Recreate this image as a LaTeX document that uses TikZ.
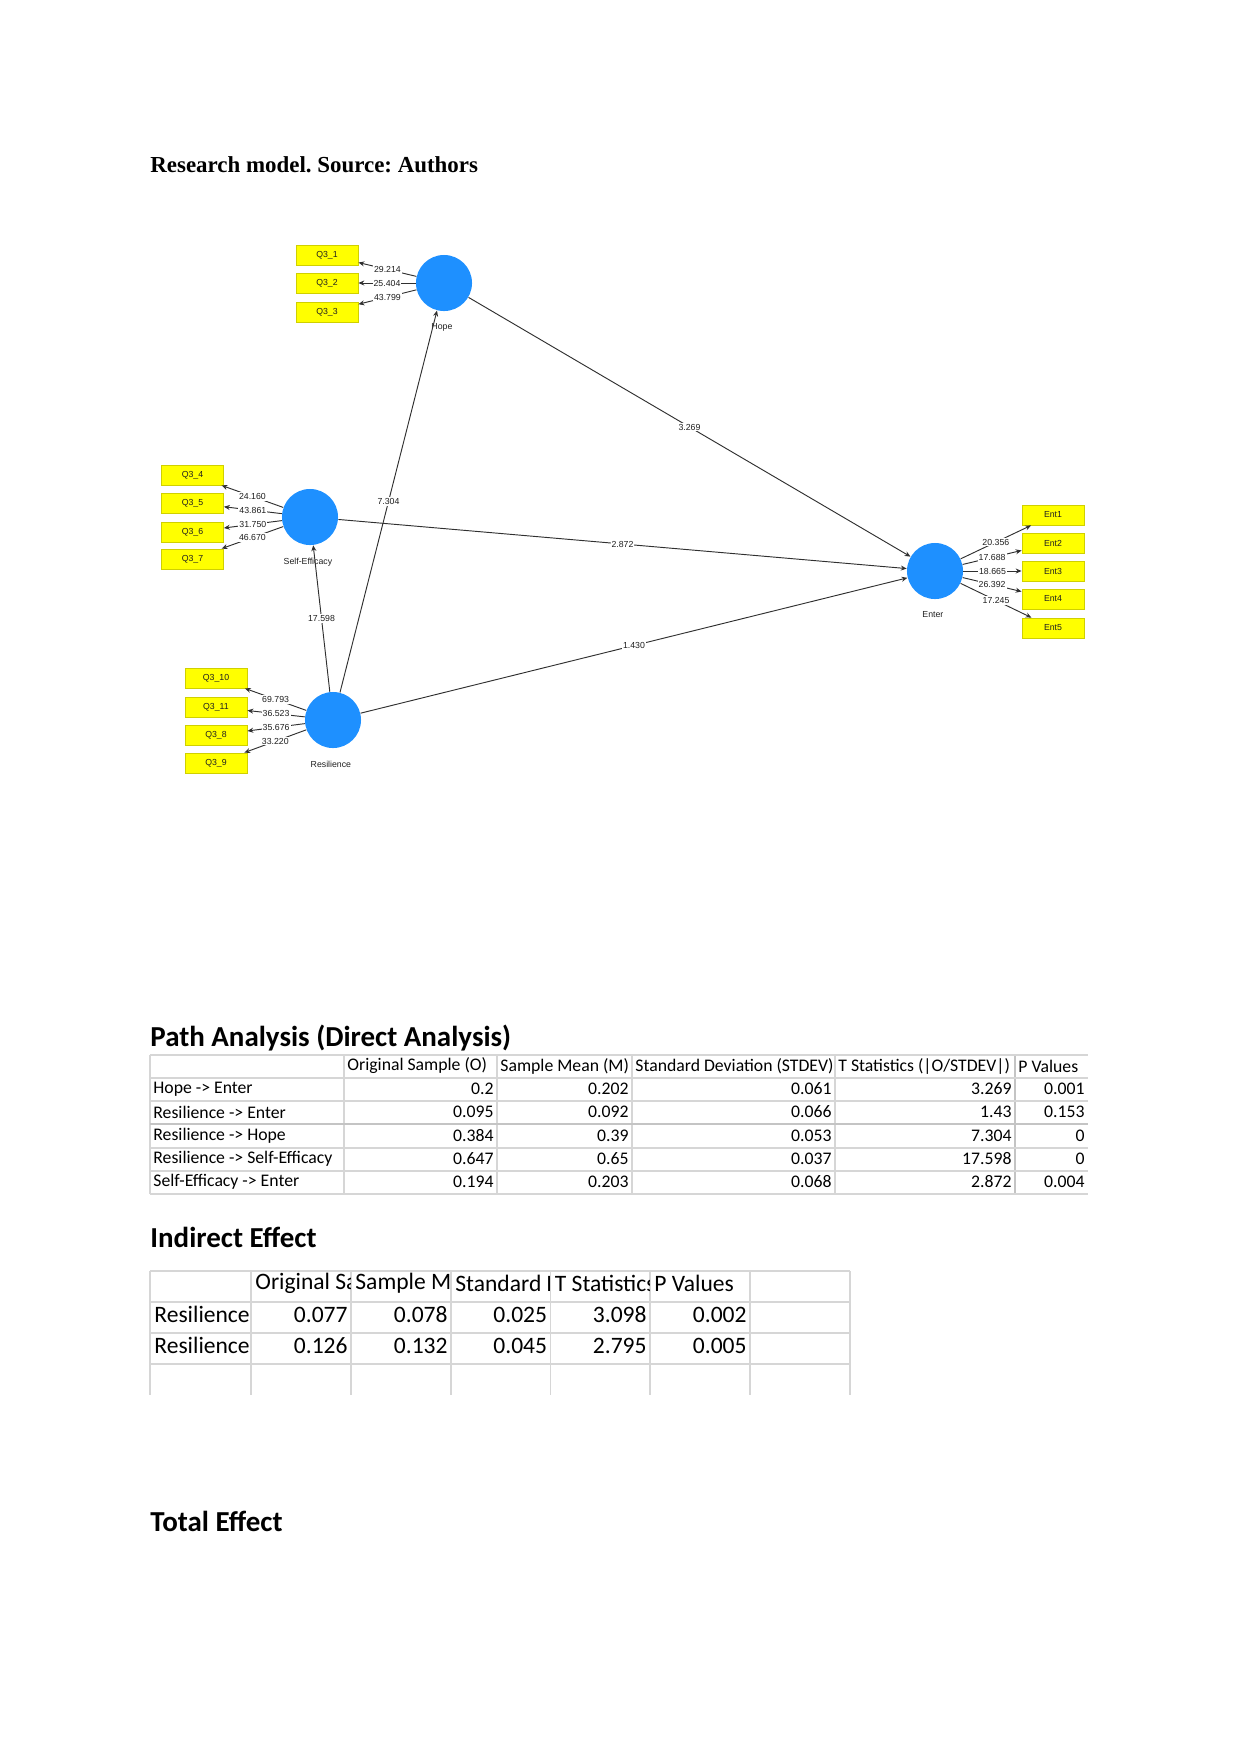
\documentclass[tikz,border=0pt]{standalone}
\usepackage{fontspec}
\setmainfont{Liberation Serif}
\newfontfamily\calfont{Carlito}
\newfontfamily\dsans{Liberation Sans}
\usetikzlibrary{arrows.meta}
\frenchspacing
\definecolor{lvblue}{HTML}{1E90FF}
\definecolor{indyellow}{HTML}{FFFF00}
\definecolor{inddraw}{HTML}{D0D000}
\definecolor{linegray}{HTML}{303030}
\definecolor{labgray}{HTML}{202020}
\definecolor{gridgray}{HTML}{D6D6D6}
\definecolor{gridgrayd}{HTML}{C4C4C4}
\newcommand{\dfont}{\dsans\fontsize{4.2}{5}\selectfont}
\newcommand{\tfont}{\calfont\fontsize{8.5}{10}\selectfont}
\newcommand{\ufont}{\calfont\fontsize{11.3}{14}\selectfont}
\newcommand{\hfont}{\calfont\bfseries\fontsize{13.9}{16}\selectfont}
\tikzset{
  lv/.style={circle, fill=lvblue, minimum size=26.9pt, inner sep=0pt},
  lvlab/.style={font=\dfont, text=labgray, inner sep=0pt, label distance=5.8pt, xshift=-1pt},
  ind/.style={rectangle, fill=indyellow, draw=inddraw, line width=0.4pt,
    minimum width=29.8pt, minimum height=9.6pt, inner sep=0pt, font=\dfont, text=labgray},
  conn/.style={draw=linegray, line width=0.45pt, -{Stealth[length=2.8pt,width=2.4pt]}},
  wt/.style={midway, fill=white, inner sep=0.5pt, font=\dfont, text=labgray},
  gridthin/.style={draw=gridgray, line width=0.5pt},
  gridthick/.style={draw=gridgrayd, line width=1pt},
  gridtwo/.style={draw=gridgray, line width=0.75pt},
  cellL/.style={anchor=west, inner sep=0pt},
  cellR/.style={anchor=east, inner sep=0pt}
}
\begin{document}
\begin{tikzpicture}[x=0.48pt, y=-0.48pt]
\useasboundingbox (0,0) rectangle (1241,1754);

% ---------- title ----------
\node[anchor=base west, inner sep=0pt, font=\bfseries\fontsize{11}{13}\selectfont] (title) at (150,172) {Research model. Source: Authors};

% ---------- latent variables ----------
\node[lv, label={[lvlab]below:Hope}] (hope) at (444,283) {};
\node[lv, label={[lvlab]below:Self-Efficacy}] (se) at (310,517) {};
\node[lv, label={[lvlab]below:Resilience}] (res) at (333,720) {};
\node[lv, label={[lvlab]below:Enter}] (ent) at (935,571) {};

% ---------- indicators ----------
\node[ind] (q1) at (327,255) {Q3\_1};
\node[ind] (q2) at (327,283) {Q3\_2};
\node[ind] (q3) at (327,312) {Q3\_3};

\node[ind] (q4) at (192.5,475) {Q3\_4};
\node[ind] (q5) at (192.5,503) {Q3\_5};
\node[ind] (q6) at (192.5,532) {Q3\_6};
\node[ind] (q7) at (192.5,559) {Q3\_7};

\node[ind] (q10) at (216,678) {Q3\_10};
\node[ind] (q11) at (216,707) {Q3\_11};
\node[ind] (q8) at (216,735) {Q3\_8};
\node[ind] (q9) at (216,763) {Q3\_9};

\node[ind] (e1) at (1053,515) {Ent1};
\node[ind] (e2) at (1053,543) {Ent2};
\node[ind] (e3) at (1053,571) {Ent3};
\node[ind] (e4) at (1053,599) {Ent4};
\node[ind] (e5) at (1053,628) {Ent5};

% ---------- outer model ----------
\draw[conn] (hope) -- node[wt]{29.214} (q1);
\draw[conn] (hope) -- node[wt]{25.404} (q2);
\draw[conn] (hope) -- node[wt]{43.799} (q3);

\draw[conn] (se) -- node[wt]{24.160} (q4);
\draw[conn] (se) -- node[wt]{43.861} (q5);
\draw[conn] (se) -- node[wt]{31.750} (q6);
\draw[conn] (se) -- node[wt]{46.670} (q7);

\draw[conn] (res) -- node[wt]{69.793} (q10);
\draw[conn] (res) -- node[wt]{36.523} (q11);
\draw[conn] (res) -- node[wt]{35.676} (q8);
\draw[conn] (res) -- node[wt]{33.220} (q9);

\draw[conn] (ent) -- node[wt]{20.356} (e1);
\draw[conn] (ent) -- node[wt]{17.688} (e2);
\draw[conn] (ent) -- node[wt]{18.665} (e3);
\draw[conn] (ent) -- node[wt]{26.392} (e4);
\draw[conn] (ent) -- node[wt]{17.245} (e5);

% ---------- inner model ----------
\draw[conn] (hope) -- node[wt]{3.269} (ent);
\draw[conn] (se) -- node[wt]{2.872} (ent);
\draw[conn] (res) -- node[wt]{1.430} (ent);
\draw[conn] (res) -- node[wt]{7.304} (hope);
\draw[conn] (res) -- node[wt]{17.598} (se);

% ---------- Path Analysis table ----------
\node[anchor=base west, inner sep=0pt, font=\hfont] (h1) at (150,1046) {Path Analysis (Direct Analysis)};
\foreach \x in {150,344,497,632,835} \draw[gridthin] (\x,1055) -- (\x,1194);
\draw[gridthick] (1015,1055) -- (1015,1194);
\foreach \y in {1055,1078,1101,1148,1171,1194} \draw[gridthin] (150,\y) -- (1088,\y);
\draw[gridthick] (150,1124) -- (1088,1124);

\node[cellL, font=\tfont] (th1) at (347,1066) {Original Sample (O)};
\node[cellL, font=\tfont] (th2) at (500,1066) {Sample Mean (M)};
\node[cellL, font=\tfont] (th3) at (635,1066) {Standard Deviation (STDEV)};
\node[cellL, font=\tfont] (th4) at (838,1066) {T Statistics (|O/STDEV|)};
\node[cellL, font=\tfont] (th5) at (1018,1066) {P Values};

\foreach \i/\y/\n/\a/\b/\c/\d/\e in {
  1/1089/Hope -> Enter/0.2/0.202/0.061/3.269/0.001,
  2/1112/Resilience -> Enter/0.095/0.092/0.066/1.43/0.153,
  3/1135.5/Resilience -> Hope/0.384/0.39/0.053/7.304/0,
  4/1159/Resilience -> Self-Efficacy/0.647/0.65/0.037/17.598/0,
  5/1182/Self-Efficacy -> Enter/0.194/0.203/0.068/2.872/0.004}{
  \node[cellL, font=\tfont] (tr\i n) at (153,\y) {\n};
  \node[cellR, font=\tfont] (tr\i a) at (494,\y) {\a};
  \node[cellR, font=\tfont] (tr\i b) at (629,\y) {\b};
  \node[cellR, font=\tfont] (tr\i c) at (832,\y) {\c};
  \node[cellR, font=\tfont] (tr\i d) at (1012,\y) {\d};
  \node[cellR, font=\tfont] (tr\i e) at (1085,\y) {\e};
}

% ---------- Indirect Effect table ----------
\node[anchor=base west, inner sep=0pt, font=\hfont] (h2) at (150,1247) {Indirect Effect};
\foreach \x in {150,251,351,451,550.5,650,750,850} \draw[gridtwo] (\x,1271) -- (\x,1395);
\foreach \y in {1271,1302,1333,1364} \draw[gridtwo] (150,\y) -- (850,\y);

\foreach \j/\xl/\xr/\t in {1/251/350/Original Sa, 2/351/450/Sample Me, 3/451/549.5/Standard D, 4/550.5/649/T Statistics}{
  \begin{scope}
    \clip (\xl,1272) rectangle (\xr,1301);
    \node[cellL, font=\ufont] (ih\j) at (\xl+4,1283.5) {\t};
  \end{scope}
}
\node[cellL, font=\ufont] (ih5) at (654,1283.5) {P Values};

\foreach \i/\y/\a/\b/\c/\d/\e in {
  1/1314.5/0.077/0.078/0.025/3.098/0.002,
  2/1345.5/0.126/0.132/0.045/2.795/0.005}{
  \begin{scope}
    \clip (151,\y-13) rectangle (250,\y+15);
    \node[cellL, font=\ufont] (ir\i n) at (154,\y) {Resilience};
  \end{scope}
  \node[cellR, font=\ufont] (ir\i a) at (348,\y) {\a};
  \node[cellR, font=\ufont] (ir\i b) at (448,\y) {\b};
  \node[cellR, font=\ufont] (ir\i c) at (547.5,\y) {\c};
  \node[cellR, font=\ufont] (ir\i d) at (647,\y) {\d};
  \node[cellR, font=\ufont] (ir\i e) at (747,\y) {\e};
}

% ---------- Total Effect ----------
\node[anchor=base west, inner sep=0pt, font=\hfont] (h3) at (150,1531) {Total Effect};
\end{tikzpicture}
\end{document}
